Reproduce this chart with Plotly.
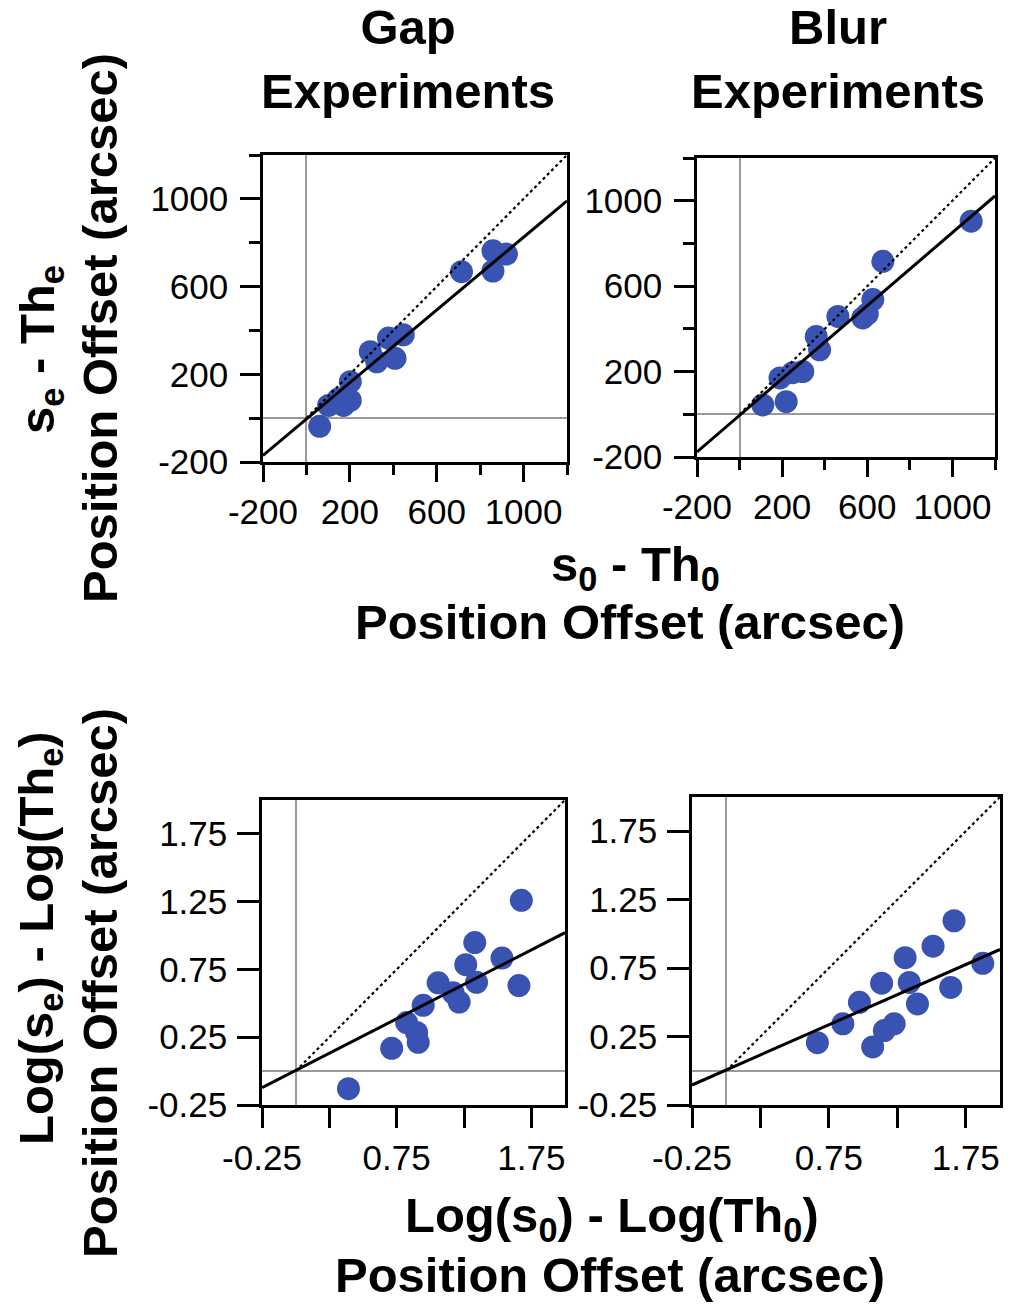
import plotly.graph_objects as go
import numpy as np

# ---------------- data ----------------
gap_lin_x = [61, 102, 148, 202, 202, 171, 294, 378, 446, 408, 324, 714, 859, 921, 859]
gap_lin_y = [-37, 58, 89, 166, 81, 58, 303, 365, 380, 273, 257, 668, 763, 748, 671]

blur_lin_x = [109, 219, 190, 297, 250, 360, 376, 462, 579, 600, 626, 673, 1088]
blur_lin_y = [44, 59, 170, 200, 195, 364, 302, 458, 451, 470, 537, 716, 904]

gap_log_x = [0.392, 0.713, 0.824, 0.91, 0.898, 0.947, 1.058, 1.169, 1.214, 1.263, 1.33, 1.343, 1.532, 1.658, 1.676]
gap_log_y = [-0.13, 0.168, 0.358, 0.212, 0.285, 0.485, 0.651, 0.578, 0.509, 0.785, 0.948, 0.655, 0.834, 0.631, 1.26]

blur_log_x = [0.666, 0.852, 0.973, 1.07, 1.155, 1.227, 1.135, 1.307, 1.337, 1.397, 1.511, 1.64, 1.664, 1.874]
blur_log_y = [0.205, 0.343, 0.5, 0.174, 0.294, 0.343, 0.64, 0.826, 0.645, 0.488, 0.91, 0.609, 1.096, 0.785]

# regression lines (intercept, slope)
gap_lin_fit = (-4, 0.829)
blur_lin_fit = (-5, 0.856)
gap_log_fit = (0.005, 0.508)
blur_log_fit = (0.006, 0.44)

lin_range = [-200, 1200]
log_range = [-0.25, 2.0]

lin_major = [-200, 200, 600, 1000]
lin_minor = [0, 400, 800, 1200]
log_xmajor = [-0.25, 0.75, 1.75]
log_xminor = [0.25, 1.25]
log_yticks = [-0.25, 0.25, 0.75, 1.25, 1.75]

# --------------------------------------
BLUE = '#3953b3'
GRAY = '#9a9a9a'
FONT = 'Liberation Sans, Arial, Helvetica, sans-serif'

W, H = 1011, 1304

def px2fx(px):
    return px / W

def py2fy(py):
    return 1 - py / H

panels = [
    dict(x=gap_lin_x, y=gap_lin_y, fit=gap_lin_fit, rng=lin_range,
         dom_x=(263, 567), dom_y=(155, 462), kind='lin'),
    dict(x=blur_lin_x, y=blur_lin_y, fit=blur_lin_fit, rng=lin_range,
         dom_x=(697, 995), dom_y=(158, 457), kind='lin'),
    dict(x=gap_log_x, y=gap_log_y, fit=gap_log_fit, rng=log_range,
         dom_x=(262, 565), dom_y=(800, 1105), kind='log'),
    dict(x=blur_log_x, y=blur_log_y, fit=blur_log_fit, rng=log_range,
         dom_x=(692, 1000), dom_y=(797, 1105), kind='log'),
]

fig = go.Figure()
layout_axes = {}
for i, p in enumerate(panels):
    n = '' if i == 0 else str(i + 1)
    xref, yref = 'x' + n, 'y' + n
    # points
    fig.add_trace(go.Scatter(x=p['x'], y=p['y'], mode='markers', xaxis=xref, yaxis=yref,
                             marker=dict(size=23, color=BLUE, line=dict(width=0)),
                             showlegend=False, hoverinfo='skip'))
    # identity line
    fig.add_trace(go.Scatter(x=[0, p['rng'][1]], y=[0, p['rng'][1]], mode='lines',
                             xaxis=xref, yaxis=yref,
                             line=dict(color='black', width=2.2, dash='dot'),
                             showlegend=False, hoverinfo='skip'))
    # fit line
    a, b = p['fit']
    xe = np.array(p['rng'], dtype=float)
    fig.add_trace(go.Scatter(x=xe, y=a + b * xe, mode='lines', xaxis=xref, yaxis=yref,
                             line=dict(color='black', width=3),
                             showlegend=False, hoverinfo='skip'))

    common = dict(range=p['rng'], showline=True, mirror=True, linecolor='black', linewidth=2.5,
                  showgrid=False, zeroline=True, zerolinecolor=GRAY, zerolinewidth=2,
                  ticks='outside', tickcolor='black', tickwidth=2.5, automargin=False,
                  tickfont=dict(family=FONT, size=35, color='black'),
                  fixedrange=True)
    if p['kind'] == 'lin':
        xa = dict(common, tickmode='array', tickvals=lin_major,
                  ticktext=[str(v) for v in lin_major], ticklen=17,
                  minor=dict(tickmode='array', tickvals=lin_minor, ticklen=10,
                             ticks='outside', tickcolor='black', tickwidth=2.5))
        ya = dict(common, tickmode='array', tickvals=lin_major,
                  ticktext=[str(v) for v in lin_major], ticklen=20, ticklabelstandoff=5,
                  minor=dict(tickmode='array', tickvals=lin_minor, ticklen=11,
                             ticks='outside', tickcolor='black', tickwidth=2.5))
    else:
        xa = dict(common, tickmode='array', tickvals=log_xmajor,
                  ticktext=['%.2f' % v for v in log_xmajor], ticklen=20,
                  minor=dict(tickmode='array', tickvals=log_xminor, ticklen=20,
                             ticks='outside', tickcolor='black', tickwidth=2.5))
        ya = dict(common, tickmode='array', tickvals=log_yticks,
                  ticktext=['%.2f' % v for v in log_yticks], ticklen=22,
                  ticklabelstandoff=3)
    xa['domain'] = [px2fx(p['dom_x'][0]), px2fx(p['dom_x'][1])]
    ya['domain'] = [py2fy(p['dom_y'][1]), py2fy(p['dom_y'][0])]
    xa['anchor'] = yref
    ya['anchor'] = xref
    layout_axes['xaxis' + n] = xa
    layout_axes['yaxis' + n] = ya

BOLD = dict(family=FONT, size=49, color='black')

def ann(text, x, y, angle=0):
    return dict(text=text, x=px2fx(x), y=py2fy(y), xref='paper', yref='paper',
                showarrow=False, font=BOLD, textangle=angle,
                xanchor='center', yanchor='middle')

annotations = [
    ann('<b>Gap<br>Experiments</b>', 408, 59),
    ann('<b>Blur<br>Experiments</b>', 838, 59),
    ann('<b>s<sub>e</sub> - Th<sub>e</sub></b>', 40, 350, -90),
    ann('<b>Position Offset (arcsec)</b>', 100, 328, -90),
    ann('<b>s<sub>0</sub> - Th<sub>0</sub></b>', 635, 568),
    ann('<b>Position Offset (arcsec)</b>', 630, 622),
    ann('<b>Log(s<sub>e</sub>) - Log(Th<sub>e</sub>)</b>', 40, 938, -90),
    ann('<b>Position Offset (arcsec)</b>', 100, 983, -90),
    ann('<b>Log(s<sub>0</sub>) - Log(Th<sub>0</sub>)</b>', 612, 1218),
    ann('<b>Position Offset (arcsec)</b>', 610, 1275),
]

fig.update_layout(width=W, height=H, margin=dict(l=0, r=0, t=0, b=0),
                  paper_bgcolor='white', plot_bgcolor='white',
                  annotations=annotations, showlegend=False, **layout_axes)

fig.write_html('out.html')
